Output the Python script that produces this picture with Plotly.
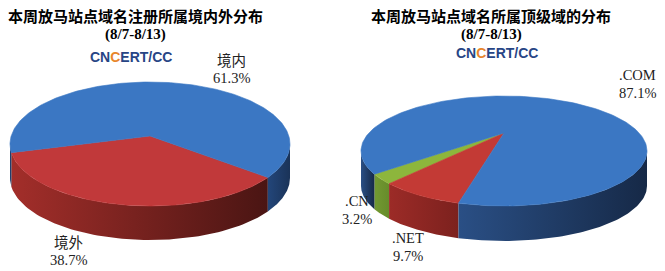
import numpy as np
import plotly.graph_objects as go

# ---- data ----
left_title = "本周放马站点域名注册所属境内外分布"
right_title = "本周放马站点域名所属顶级域的分布"
period = "(8/7-8/13)"
left_labels = ["境外", "境内"]
left_values = [38.7, 61.3]
right_labels = [".CN", ".NET", ".COM"]
right_values = [3.2, 9.7, 87.1]

# ---- styles / geometry ----
W, H = 665, 271
left_geom = dict(cx=150, cy=144, rx=140, ry=62, depth=34, start=188, apex_dy=-8)
right_geom = dict(cx=504, cy=151, rx=143, ry=55, depth=35, start=205, apex_dy=-18)
left_top = {"境内": "#3b77c3", "境外": "#c1393a"}
left_side = {"境内": ["#23467a", "#1a3358"], "境外": ["#a32e2a", "#4a1513"]}
right_top = {".COM": "#3b77c3", ".NET": "#c33a35", ".CN": "#8db63c"}
right_side = {".COM": ["#2a4f85", "#162947"], ".NET": ["#9c2b27", "#7c211e"],
              ".CN": ["#729a31", "#678c2b"]}

fig = go.Figure()


def pt(g, t, dy=0.0):
    r = np.radians(t)
    return g["cx"] + g["rx"] * np.cos(r), g["cy"] - g["ry"] * np.sin(r) + dy


def add_pie(g, labels, values, tops, sides):
    total = float(sum(values))
    spans = []
    a = g["start"]
    for lab, v in zip(labels, values):
        b = a + 360.0 * v / total
        spans.append((lab, a, b))
        a = b
    # side bands (front half only)
    for lab, a0, a1 in spans:
        for k in (-1, 0, 1):
            s0 = max(a0, 180 + 360 * k)
            s1 = min(a1, 360 + 360 * k)
            if s1 - s0 <= 0.01:
                continue
            ts = np.linspace(s0, s1, 80)
            xt, yt = pt(g, ts)
            xb, yb = pt(g, ts[::-1], g["depth"])
            xs = np.concatenate([xt, xb, xt[:1]])
            ys = np.concatenate([yt, yb, yt[:1]])
            fig.add_trace(go.Scatter(
                x=xs, y=ys, mode="lines", fill="toself",
                line=dict(width=0, color=sides[lab][1]),
                fillgradient=dict(type="horizontal",
                                  colorscale=[[0, sides[lab][0]], [1, sides[lab][1]]]),
                hoverinfo="skip", showlegend=False))
    # top faces
    ax, ay = g["cx"], g["cy"] + g["apex_dy"]
    for lab, a0, a1 in spans:
        ts = np.linspace(a0, a1, 200)
        xa, ya = pt(g, ts)
        xs = np.concatenate([[ax], xa, [ax]])
        ys = np.concatenate([[ay], ya, [ay]])
        fig.add_trace(go.Scatter(
            x=xs, y=ys, mode="lines", fill="toself",
            line=dict(width=0.6, color=tops[lab]), fillcolor=tops[lab],
            hoverinfo="skip", showlegend=False))


add_pie(left_geom, left_labels, left_values, left_top, left_side)
add_pie(right_geom, right_labels, right_values, right_top, right_side)

title_font = dict(family="Noto Sans CJK SC", size=15, color="#000000")
sub_font = dict(family="Liberation Serif", size=15, color="#000000")
logo_font = dict(family="Liberation Sans", size=14, color="#274585")
lab_font = dict(family="Liberation Serif, Noto Sans CJK SC", size=14.5, color="#222222")

ann = []


def text(x, y, s, font):
    ann.append(dict(x=x, y=y, xref="x", yref="y", text=s, showarrow=False,
                    font=font, xanchor="center", yanchor="middle"))


text(135, 15, "<b>%s</b>" % left_title, title_font)
text(491, 15, "<b>%s</b>" % right_title, title_font)
text(135, 34, "<b>%s</b>" % period, sub_font)
text(491, 34, "<b>%s</b>" % period, sub_font)
logo = "<b>CN<span style='color:#e8862a'>C</span>ERT/CC</b>"
text(131, 57, logo, logo_font)
text(497, 53, logo, logo_font)

left_pos = {"境内": (231, 60), "境外": (68, 242)}
right_pos = {".COM": (637, 75), ".NET": (408, 238), ".CN": (357, 201)}
for lab, v in zip(left_labels, left_values):
    x, y = left_pos[lab]
    text(x, y, lab, lab_font)
    text(x, y + 18, "%.1f%%" % v, lab_font)
for lab, v in zip(right_labels, right_values):
    x, y = right_pos[lab]
    text(x, y, lab, lab_font)
    text(x, y + 18, "%.1f%%" % v, lab_font)

fig.update_layout(
    width=W, height=H, margin=dict(l=0, r=0, t=0, b=0),
    paper_bgcolor="white", plot_bgcolor="white",
    xaxis=dict(range=[0, W], visible=False, fixedrange=True),
    yaxis=dict(range=[H, 0], visible=False, fixedrange=True),
    annotations=ann, showlegend=False,
)
fig.write_html("out.html")
